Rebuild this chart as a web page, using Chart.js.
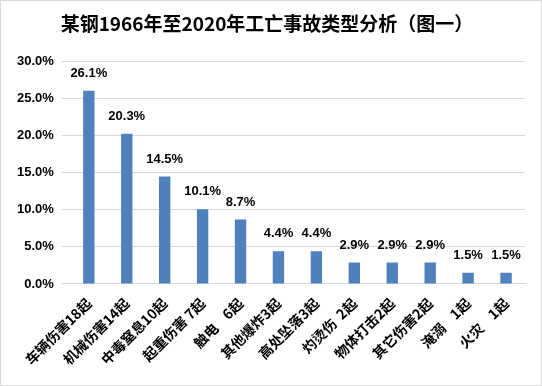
<!DOCTYPE html>
<html>
<head>
<meta charset="utf-8">
<script src="https://cdn.jsdelivr.net/npm/chart.js@4"></script>
<style>
  html, body { margin: 0; padding: 0; background: #fff; }
  #box { width: 540px; height: 384px; border: 1px solid #d9d9d9; position: relative; }
</style>
</head>
<body>
<div id="box"><canvas id="chart" width="540" height="384"></canvas></div>
<script>
// Données
const categories = [
  '车辆伤害18起', '机械伤害14起', '中毒窒息10起', '起重伤害 7起',
  '触电    6起', '其他爆炸3起', '高处坠落3起', '灼烫伤  2起',
  '物体打击2起', '其它伤害2起', '淹溺    1起', '火灾    1起'
];
const percents = [26.1, 20.3, 14.5, 10.1, 8.7, 4.4, 4.4, 2.9, 2.9, 2.9, 1.5, 1.5];
const yTicks = [0, 5, 10, 15, 20, 25, 30];

const fontCJK = '"Noto Sans CJK SC", "Liberation Sans", sans-serif';

// Étiquettes de valeur au-dessus des barres
const valueLabels = {
  id: 'valueLabels',
  afterDatasetsDraw(chart) {
    const ctx = chart.ctx;
    const meta = chart.getDatasetMeta(0);
    ctx.save();
    ctx.font = 'bold 13px "Liberation Sans", sans-serif';
    ctx.fillStyle = '#000';
    ctx.textAlign = 'center';
    ctx.textBaseline = 'bottom';
    meta.data.forEach((bar, i) => {
      ctx.fillText(percents[i].toFixed(1) + '%', bar.x, bar.y - 11);
    });
    ctx.restore();
  }
};

new Chart(document.getElementById('chart').getContext('2d'), {
  type: 'bar',
  data: {
    labels: categories,
    datasets: [{
      data: percents,
      backgroundColor: '#4f81bd',
      barPercentage: 0.3,
      categoryPercentage: 1
    }]
  },
  options: {
    responsive: false,
    animation: false,
    layout: { padding: { top: 6, right: 16, left: 8, bottom: 14 } },
    plugins: {
      legend: { display: false },
      tooltip: { enabled: false },
      title: {
        display: true,
        text: '某钢1966年至2020年工亡事故类型分析（图一）',
        color: '#000',
        font: { family: fontCJK, size: 19, weight: 'bold' },
        padding: { top: 5, bottom: 27 }
      }
    },
    scales: {
      x: {
        grid: { display: false },
        border: { color: '#d9d9d9' },
        ticks: {
          color: '#000',
          minRotation: 45,
          maxRotation: 45,
          autoSkip: false,
          padding: 3,
          font: { family: fontCJK, size: 14, weight: 'bold' }
        }
      },
      y: {
        min: 0,
        max: 30,
        afterBuildTicks(axis) { axis.ticks = yTicks.map(v => ({ value: v })); },
        grid: { color: '#d9d9d9' },
        border: { display: false },
        ticks: {
          color: '#000',
          padding: 8,
          font: { family: '"Liberation Sans", sans-serif', size: 13, weight: 'bold' },
          callback: v => v.toFixed(1) + '%'
        }
      }
    }
  },
  plugins: [valueLabels]
});
</script>
</body>
</html>
